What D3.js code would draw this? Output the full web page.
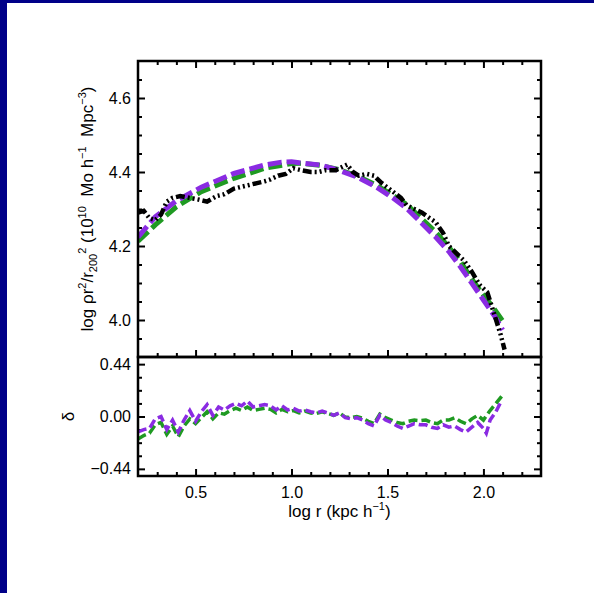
<!DOCTYPE html>
<html>
<head>
<meta charset="utf-8">
<script src="https://cdn.jsdelivr.net/npm/d3@7"></script>
<style>
  html, body { margin: 0; padding: 0; background: #ffffff; }
  svg { display: block; }
  text { font-family: "Liberation Sans", Arial, Helvetica, sans-serif; fill: #000; }
</style>
</head>
<body>
<svg id="chart" width="594" height="593"></svg>
<script>
// ---------------- data ----------------
// upper panel: measured profile (black) and two fitted profiles
const dataX = [0.20,0.23,0.26,0.29,0.32,0.35,0.38,0.42,0.47,0.52,0.56,0.61,0.65,0.70,0.74,0.78,0.82,0.86,0.89,0.93,0.97,1.01,1.05,1.10,1.14,1.18,1.23,1.29,1.32,1.35,1.39,1.43,1.47,1.52,1.57,1.60,1.64,1.68,1.72,1.75,1.79,1.82,1.86,1.90,1.94,1.98,2.02,2.06,2.09,2.11];
const dataY = [4.290,4.295,4.275,4.270,4.285,4.320,4.330,4.335,4.330,4.325,4.320,4.335,4.340,4.355,4.360,4.365,4.370,4.375,4.380,4.390,4.395,4.410,4.405,4.400,4.400,4.405,4.405,4.420,4.400,4.390,4.395,4.390,4.370,4.350,4.330,4.310,4.300,4.290,4.275,4.265,4.235,4.200,4.180,4.160,4.130,4.095,4.075,4.010,3.960,3.920];

const fitPurpleX = [0.20,0.29,0.40,0.53,0.70,0.86,0.94,1.00,1.04,1.15,1.25,1.34,1.44,1.52,1.60,1.68,1.75,1.82,1.88,1.94,2.00,2.06,2.10];
const fitPurpleY = [4.224,4.279,4.322,4.359,4.396,4.419,4.426,4.428,4.425,4.419,4.404,4.387,4.360,4.333,4.302,4.261,4.225,4.185,4.144,4.099,4.054,4.009,3.973];

const fitGreenX = [0.20,0.29,0.40,0.53,0.70,0.86,1.00,1.05,1.15,1.25,1.34,1.44,1.52,1.60,1.68,1.75,1.82,1.88,1.94,2.00,2.06,2.11];
const fitGreenY = [4.213,4.257,4.306,4.347,4.383,4.410,4.423,4.424,4.418,4.406,4.390,4.365,4.340,4.312,4.273,4.238,4.197,4.158,4.110,4.068,4.027,3.990];

// lower panel: residuals delta
const resPurpleX = [0.20,0.23,0.26,0.29,0.32,0.35,0.38,0.41,0.44,0.47,0.50,0.53,0.56,0.59,0.62,0.65,0.68,0.71,0.74,0.77,0.80,0.83,0.86,0.89,0.92,0.95,0.98,1.01,1.04,1.07,1.10,1.13,1.16,1.19,1.22,1.25,1.28,1.31,1.34,1.37,1.40,1.43,1.46,1.49,1.52,1.55,1.58,1.61,1.64,1.67,1.70,1.73,1.76,1.79,1.82,1.85,1.88,1.91,1.94,1.97,2.00,2.015,2.035,2.065,2.09];
const resPurpleY = [-0.13,-0.11,-0.10,-0.02,0.00,-0.11,-0.03,-0.13,-0.03,0.05,-0.04,0.04,0.10,0.01,0.08,0.055,0.09,0.11,0.09,0.13,0.08,0.09,0.10,0.09,0.055,0.09,0.055,0.07,0.045,0.055,0.04,0.03,0.045,0.03,0.01,0.03,-0.01,-0.02,-0.01,-0.03,-0.06,-0.08,0.01,-0.03,-0.05,-0.08,-0.10,-0.08,-0.06,-0.07,-0.07,-0.09,-0.10,-0.07,-0.09,-0.08,-0.11,-0.13,-0.09,-0.05,-0.10,-0.14,-0.03,0.04,0.12];

const resGreenX = [0.20,0.23,0.26,0.29,0.32,0.35,0.38,0.41,0.44,0.47,0.50,0.53,0.56,0.59,0.62,0.65,0.68,0.71,0.74,0.77,0.80,0.83,0.86,0.89,0.92,0.95,0.98,1.01,1.04,1.07,1.10,1.13,1.16,1.19,1.22,1.25,1.28,1.31,1.34,1.37,1.40,1.43,1.46,1.49,1.52,1.55,1.58,1.61,1.64,1.67,1.70,1.73,1.76,1.79,1.82,1.85,1.88,1.91,1.94,1.97,2.00,2.03,2.065,2.10];
const resGreenY = [-0.19,-0.16,-0.14,-0.07,-0.05,-0.15,-0.08,-0.17,-0.08,-0.02,-0.06,-0.01,0.04,-0.02,0.03,0.02,0.05,0.07,0.05,0.08,0.05,0.06,0.07,0.06,0.03,0.06,0.04,0.05,0.03,0.045,0.03,0.025,0.04,0.025,0.01,0.03,-0.005,-0.01,0.00,-0.015,-0.04,-0.06,0.02,-0.01,-0.03,-0.05,-0.06,-0.04,-0.03,-0.035,-0.03,-0.05,-0.06,-0.03,-0.03,-0.01,-0.04,-0.06,-0.02,0.01,-0.03,0.04,0.11,0.18];

// ticks
const xMajor = [0.5, 1.0, 1.5, 2.0];
const xMinor = [0.3,0.4,0.6,0.7,0.8,0.9,1.1,1.2,1.3,1.4,1.6,1.7,1.8,1.9,2.1,2.2];
const yUMajor = [4.0, 4.2, 4.4, 4.6];
const yUMinor = [3.95,4.05,4.1,4.15,4.25,4.3,4.35,4.45,4.5,4.55,4.65];
const yLMajor = [-0.44, 0.00, 0.44];
const yLMinor = [-0.33,-0.22,-0.11,0.11,0.22,0.33];

// ---------------- drawing ----------------
const svg = d3.select("#chart");
const W = 594, H = 593;
svg.append("rect").attr("x",0).attr("y",0).attr("width",W).attr("height",H).attr("fill","#ffffff");
// navy border strips (top and left)
svg.append("rect").attr("x",0).attr("y",0).attr("width",W).attr("height",3).attr("fill","#000088");
svg.append("rect").attr("x",0).attr("y",0).attr("width",7).attr("height",H).attr("fill","#000088");

const L = 138, R = 541, T = 61, M = 357, B = 476;
const x = d3.scaleLinear().domain([0.2, 2.3]).range([L, R]);
const yU = d3.scaleLinear().domain([3.9, 4.7]).range([M, T]);
const yL = d3.scaleLinear().domain([-0.5, 0.5]).range([B, M]);

const majorLen = 7, minorLen = 4;

function addAxis(axis, tx, ty) {
  const g = svg.append("g").attr("transform", `translate(${tx},${ty})`).call(axis);
  g.select(".domain").remove();
  g.selectAll(".tick line").attr("stroke", "#000").attr("stroke-width", 2);
  g.selectAll(".tick text").style("font-size", "16px").style("font-family", '"Liberation Sans", Arial, Helvetica, sans-serif').attr("fill", "#000");
  return g;
}
const none = () => "";

// Upper panel axes
addAxis(d3.axisLeft(yU).tickValues(yUMajor).tickSizeInner(-majorLen).tickSizeOuter(0).tickPadding(7).tickFormat(d3.format(".1f")), L, 0);
addAxis(d3.axisLeft(yU).tickValues(yUMinor).tickSizeInner(-minorLen).tickSizeOuter(0).tickFormat(none), L, 0);
addAxis(d3.axisRight(yU).tickValues(yUMajor).tickSizeInner(-majorLen).tickSizeOuter(0).tickFormat(none), R, 0);
addAxis(d3.axisRight(yU).tickValues(yUMinor).tickSizeInner(-minorLen).tickSizeOuter(0).tickFormat(none), R, 0);
addAxis(d3.axisTop(x).tickValues(xMajor).tickSizeInner(-majorLen).tickSizeOuter(0).tickFormat(none), 0, T);
addAxis(d3.axisTop(x).tickValues(xMinor).tickSizeInner(-minorLen).tickSizeOuter(0).tickFormat(none), 0, T);
addAxis(d3.axisBottom(x).tickValues(xMajor).tickSizeInner(-majorLen).tickSizeOuter(0).tickFormat(none), 0, M);
addAxis(d3.axisBottom(x).tickValues(xMinor).tickSizeInner(-minorLen).tickSizeOuter(0).tickFormat(none), 0, M);

// Lower panel axes
addAxis(d3.axisLeft(yL).tickValues(yLMajor).tickSizeInner(-majorLen).tickSizeOuter(0).tickPadding(7).tickFormat(d3.format(".2f")), L, 0);
addAxis(d3.axisLeft(yL).tickValues(yLMinor).tickSizeInner(-minorLen).tickSizeOuter(0).tickFormat(none), L, 0);
addAxis(d3.axisRight(yL).tickValues(yLMajor).tickSizeInner(-majorLen).tickSizeOuter(0).tickFormat(none), R, 0);
addAxis(d3.axisRight(yL).tickValues(yLMinor).tickSizeInner(-minorLen).tickSizeOuter(0).tickFormat(none), R, 0);
addAxis(d3.axisBottom(x).tickValues(xMajor).tickSizeInner(-majorLen).tickSizeOuter(0).tickPadding(11).tickFormat(d3.format(".1f")), 0, B);
addAxis(d3.axisBottom(x).tickValues(xMinor).tickSizeInner(-minorLen).tickSizeOuter(0).tickFormat(none), 0, B);

// clip paths
const defs = svg.append("defs");
defs.append("clipPath").attr("id","clipU").append("rect").attr("x",L).attr("y",T).attr("width",R-L).attr("height",M-T);
defs.append("clipPath").attr("id","clipL").append("rect").attr("x",L).attr("y",M).attr("width",R-L).attr("height",B-M);

const GREEN = "#1f9a22", PURPLE = "#8a2be2";

function drawLine(xs, ys, yScale, clip, color, width, dash) {
  const pts = xs.map((v, i) => [v, ys[i]]);
  const line = d3.line().x(d => x(d[0])).y(d => yScale(d[1]));
  svg.append("path")
    .attr("d", line(pts))
    .attr("clip-path", `url(#${clip})`)
    .attr("fill", "none")
    .attr("stroke", color)
    .attr("stroke-width", width)
    .attr("stroke-dasharray", dash)
    .attr("stroke-linejoin", "miter");
}

// upper panel curves
drawLine(fitGreenX, fitGreenY, yU, "clipU", GREEN, 5, "14,5");
drawLine(fitPurpleX, fitPurpleY, yU, "clipU", PURPLE, 5, "14,5");
drawLine(dataX, dataY, yU, "clipU", "#000", 4.5, "9,3,2,3,2,3,2,3");

// lower panel residuals
drawLine(resGreenX, resGreenY, yL, "clipL", GREEN, 3.5, "9,4");
drawLine(resPurpleX, resPurpleY, yL, "clipL", PURPLE, 3.5, "9,4");

// frames
svg.append("rect").attr("x",L).attr("y",T).attr("width",R-L).attr("height",M-T)
  .attr("fill","none").attr("stroke","#000").attr("stroke-width",2.5);
svg.append("rect").attr("x",L).attr("y",M).attr("width",R-L).attr("height",B-M)
  .attr("fill","none").attr("stroke","#000").attr("stroke-width",2.5);

// x title
const xt = svg.append("text").attr("x", (L+R)/2).attr("y", 517).attr("text-anchor","middle").style("font-size","17px");
xt.append("tspan").text("log r (kpc h");
xt.append("tspan").attr("dy", -7).style("font-size","11px").text("\u22121");
xt.append("tspan").attr("dy", 7).text(")");

// upper y title (rotated)
const yt = svg.append("text").attr("transform", `translate(93,${(T+M)/2}) rotate(-90)`)
  .attr("text-anchor","middle").style("font-size","17px");
yt.append("tspan").text("log \u03c1r");
yt.append("tspan").attr("dy", -7).style("font-size","11px").text("2");
yt.append("tspan").attr("dy", 7).text("/r");
yt.append("tspan").attr("dy", 4).style("font-size","11px").text("200");
yt.append("tspan").attr("dy", -11).style("font-size","11px").text("2");
yt.append("tspan").attr("dy", 7).text("\u00a0(10");
yt.append("tspan").attr("dy", -7).style("font-size","11px").text("10");
yt.append("tspan").attr("dy", 7).text("\u00a0\u00a0Mo h");
yt.append("tspan").attr("dy", -7).style("font-size","11px").text("\u22121");
yt.append("tspan").attr("dy", 7).text("\u00a0\u00a0Mpc");
yt.append("tspan").attr("dy", -7).style("font-size","11px").text("\u22123");
yt.append("tspan").attr("dy", 7).text(")");

// lower y title
svg.append("text").attr("transform", `translate(74,${yL(0)}) rotate(-90)`)
  .attr("text-anchor","middle").style("font-size","17px").text("\u03b4");
</script>
</body>
</html>
